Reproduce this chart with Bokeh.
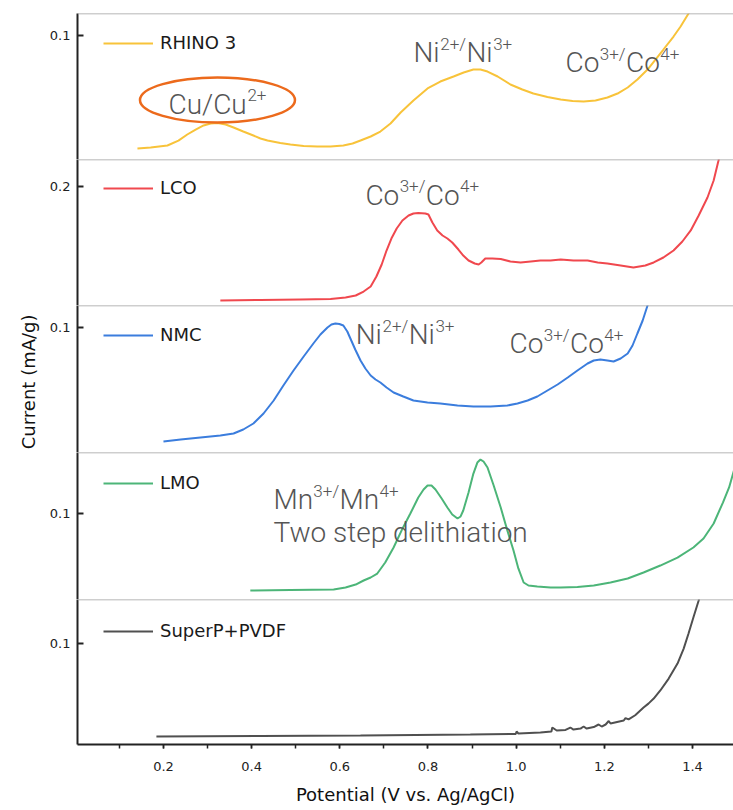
from bokeh.plotting import figure
from bokeh.models import (Range1d, FixedTicker, SingleIntervalTicker, Legend,
                          LegendItem, Label, Span, PrintfTickFormatter)
from bokeh.layouts import column
from bokeh.embed import file_html
from bokeh.resources import INLINE

# ---------------- data (potential V vs. Ag/AgCl, current mA/g) ----------------
rhino_v = [0.141, 0.171, 0.209, 0.234, 0.254, 0.273, 0.291, 0.307, 0.323, 0.341, 0.359, 0.381,
           0.404, 0.420, 0.436, 0.465, 0.488, 0.518, 0.549, 0.579, 0.608, 0.629, 0.647, 0.670,
           0.692, 0.715, 0.738, 0.767, 0.799, 0.828, 0.858, 0.881, 0.903, 0.919, 0.935, 0.958,
           0.987, 1.014, 1.039, 1.071, 1.101, 1.128, 1.153, 1.180, 1.207, 1.230, 1.253, 1.275,
           1.298, 1.316, 1.334, 1.357, 1.373, 1.391, 1.400]
rhino_i = [0.0089, 0.0097, 0.0113, 0.0153, 0.0202, 0.0242, 0.0275, 0.0291, 0.0295, 0.0283, 0.0259, 0.0226,
           0.0194, 0.0170, 0.0154, 0.0133, 0.0121, 0.0109, 0.0105, 0.0105, 0.0113, 0.0129, 0.0154, 0.0186,
           0.0226, 0.0291, 0.0380, 0.0477, 0.0574, 0.0630, 0.0671, 0.0703, 0.0727, 0.0727, 0.0711, 0.0671,
           0.0606, 0.0566, 0.0533, 0.0505, 0.0485, 0.0473, 0.0469, 0.0477, 0.0501, 0.0533, 0.0582, 0.0646,
           0.0727, 0.0808, 0.0889, 0.0994, 0.1075, 0.1180, 0.1245]

lco_v = [0.329, 0.420, 0.511, 0.579, 0.613, 0.636, 0.654, 0.670, 0.683, 0.695, 0.706, 0.717, 0.729,
         0.742, 0.756, 0.767, 0.778, 0.794, 0.801, 0.810, 0.821, 0.833, 0.844, 0.855, 0.869, 0.880,
         0.892, 0.906, 0.915, 0.921, 0.930, 0.946, 0.965, 0.987, 1.010, 1.033, 1.055, 1.078, 1.101,
         1.130, 1.162, 1.185, 1.207, 1.237, 1.266, 1.293, 1.312, 1.334, 1.357, 1.377, 1.396, 1.414,
         1.434, 1.448, 1.459, 1.464]
lco_i = [0.0084, 0.0092, 0.0101, 0.0109, 0.0134, 0.0168, 0.0235, 0.0319, 0.0487, 0.0689, 0.0924, 0.1126, 0.1294,
         0.1429, 0.1513, 0.1547, 0.1555, 0.1547, 0.1530, 0.1395, 0.1261, 0.1177, 0.1126, 0.1059, 0.0941, 0.0840,
         0.0756, 0.0706, 0.0689, 0.0723, 0.0790, 0.0790, 0.0782, 0.0740, 0.0723, 0.0740, 0.0756, 0.0756, 0.0773,
         0.0756, 0.0756, 0.0723, 0.0706, 0.0673, 0.0639, 0.0673, 0.0723, 0.0807, 0.0925, 0.1076, 0.1261, 0.1513,
         0.1815, 0.2101, 0.2437, 0.2605]

nmc_v = [0.200, 0.239, 0.284, 0.329, 0.359, 0.381, 0.404, 0.427, 0.450, 0.472, 0.495, 0.518, 0.540,
         0.556, 0.572, 0.581, 0.590, 0.599, 0.608, 0.617, 0.624, 0.635, 0.647, 0.658, 0.670, 0.681,
         0.692, 0.706, 0.722, 0.744, 0.767, 0.799, 0.828, 0.867, 0.903, 0.942, 0.980, 1.003, 1.026,
         1.048, 1.071, 1.094, 1.117, 1.139, 1.162, 1.176, 1.191, 1.207, 1.221, 1.237, 1.253, 1.264,
         1.275, 1.287, 1.298, 1.303]
nmc_i = [0.0088, 0.0104, 0.0120, 0.0136, 0.0152, 0.0184, 0.0232, 0.0312, 0.0416, 0.0536, 0.0656, 0.0768, 0.0872,
         0.0944, 0.1000, 0.1024, 0.1032, 0.1028, 0.1016, 0.0968, 0.0912, 0.0824, 0.0736, 0.0672, 0.0616, 0.0584,
         0.0560, 0.0520, 0.0480, 0.0448, 0.0416, 0.0400, 0.0392, 0.0376, 0.0368, 0.0368, 0.0376, 0.0392, 0.0416,
         0.0448, 0.0496, 0.0544, 0.0600, 0.0656, 0.0712, 0.0736, 0.0744, 0.0736, 0.0728, 0.0752, 0.0792, 0.0856,
         0.0952, 0.1056, 0.1176, 0.1232]

lmo_v = [0.397, 0.488, 0.586, 0.613, 0.636, 0.654, 0.670, 0.685, 0.703, 0.722, 0.740, 0.760, 0.778,
         0.790, 0.799, 0.808, 0.817, 0.831, 0.844, 0.855, 0.867, 0.874, 0.880, 0.892, 0.903, 0.912,
         0.919, 0.926, 0.935, 0.949, 0.965, 0.980, 0.994, 1.005, 1.017, 1.028, 1.048, 1.078, 1.101,
         1.139, 1.176, 1.214, 1.253, 1.289, 1.327, 1.366, 1.402, 1.425, 1.448, 1.469, 1.483, 1.494]
lmo_i = [0.0105, 0.0110, 0.0116, 0.0140, 0.0174, 0.0221, 0.0256, 0.0302, 0.0430, 0.0605, 0.0802, 0.1000, 0.1186,
         0.1279, 0.1326, 0.1326, 0.1279, 0.1175, 0.1070, 0.0989, 0.0942, 0.0966, 0.1035, 0.1244, 0.1465, 0.1593,
         0.1628, 0.1605, 0.1535, 0.1326, 0.1070, 0.0802, 0.0570, 0.0361, 0.0198, 0.0163, 0.0151, 0.0140, 0.0140,
         0.0145, 0.0163, 0.0198, 0.0244, 0.0314, 0.0395, 0.0488, 0.0605, 0.0709, 0.0884, 0.1128, 0.1303, 0.1500]

superp_v = [0.184, 0.420, 0.647, 0.896, 0.999, 1.001, 1.005, 1.055, 1.080, 1.082, 1.092, 1.112, 1.123,
            1.130, 1.146, 1.153, 1.160, 1.176, 1.187, 1.194, 1.203, 1.210, 1.214, 1.244, 1.248, 1.255,
            1.270, 1.289, 1.300, 1.312, 1.327, 1.346, 1.366, 1.380, 1.391, 1.402, 1.414, 1.418]
superp_i = [0.0079, 0.0084, 0.0089, 0.0099, 0.0104, 0.0129, 0.0109, 0.0119, 0.0129, 0.0168, 0.0139, 0.0144, 0.0168,
            0.0148, 0.0158, 0.0178, 0.0158, 0.0173, 0.0198, 0.0178, 0.0198, 0.0233, 0.0208, 0.0238, 0.0262, 0.0248,
            0.0290, 0.0366, 0.0405, 0.0455, 0.0535, 0.0653, 0.0802, 0.0950, 0.1099, 0.1257, 0.1426, 0.1505]

names = ["RHINO 3", "LCO", "NMC", "LMO", "SuperP+PVDF"]
colors = ["#F8C33A", "#F0484E", "#3B7DDD", "#4CB578", "#505050"]
y_max = [0.118, 0.2454, 0.1176, 0.171, 0.1436]
y_ticks = [[0.1], [0.2], [0.1], [0.1], [0.1]]
x_ticks_interval = 0.2

series = [(rhino_v, rhino_i), (lco_v, lco_i), (nmc_v, nmc_i), (lmo_v, lmo_i), (superp_v, superp_i)]

# annotation texts: (x, y, [(text, superscript?)])
annotations = [
    [(0.2113, 0.0380, [("Cu/Cu", 0), ("2+", 1)]),
     (0.767, 0.0800, [("Ni", 0), ("2+/", 1), ("Ni", 0), ("3+", 1)]),
     (1.112, 0.0719, [("Co", 0), ("3+/", 1), ("Co", 0), ("4+", 1)])],
    [(0.658, 0.1715, [("Co", 0), ("3+/", 1), ("Co", 0), ("4+", 1)])],
    [(0.636, 0.0880, [("Ni", 0), ("2+/", 1), ("Ni", 0), ("3+", 1)]),
     (0.985, 0.0808, [("Co", 0), ("3+/", 1), ("Co", 0), ("4+", 1)])],
    [(0.4495, 0.1070, [("Mn", 0), ("3+/", 1), ("Mn", 0), ("4+", 1)]),
     (0.4495, 0.0686, [("Two step delithiation", 0)])],
    [],
]

# ---------------- styling ----------------
FRAME_LEFT = 77
WIDTH = 733
frame_h = [146, 146, 147, 147, 145]
legend_top = [20, 19, 20, 21, 22]
ANN_FONT = "'Roboto Light', Roboto"
MAIN_PX, SUP_PX = 28, 17
BASE_SHIFT = 8     # px: alphabetic baseline correction
SUP_RAISE = 9      # px
ROBOTO_W = {'C': 0.653, 'u': 0.551, '/': 0.412, 'N': 0.713, 'i': 0.243, 'o': 0.570,
            'M': 0.873, 'n': 0.552, '2': 0.5615, '3': 0.5615, '4': 0.5615, '+': 0.567}


def text_w(s, px):
    return sum(ROBOTO_W.get(c, 0.55) for c in s) * px


figs = []
for k in range(5):
    last = (k == 4)
    top_b = 13 if k == 0 else 0
    bot_b = 64 if last else 0
    p = figure(width=WIDTH, height=frame_h[k] + top_b + bot_b,
               x_range=Range1d(0.005, 1.493), y_range=Range1d(0, y_max[k]),
               output_backend="svg", toolbar_location=None,
               x_axis_location="below" if last else None,
               min_border_left=FRAME_LEFT, min_border_right=0,
               min_border_top=top_b, min_border_bottom=bot_b)
    p.grid.visible = False
    p.outline_line_color = None
    p.background_fill_color = "white"
    p.border_fill_color = "white"

    v, i = series[k]
    r = p.line(v, i, line_color=colors[k], line_width=2)

    # y axis
    ya = p.yaxis[0]
    ya.ticker = FixedTicker(ticks=y_ticks[k], minor_ticks=[])
    ya.axis_line_color = "#222222"
    ya.axis_line_width = 2
    ya.major_tick_in = 6
    ya.major_tick_out = 0
    ya.major_tick_line_width = 2
    ya.major_tick_line_color = "#222222"
    ya.minor_tick_line_color = None
    ya.major_label_text_font = "DejaVu Sans"
    ya.major_label_text_font_size = "13px"
    ya.major_label_text_color = "#222222"
    ya.major_label_standoff = 7
    if k == 2:
        ya.axis_label = "Current  (mA/g)"
        ya.axis_label_text_font = "DejaVu Sans"
        ya.axis_label_text_font_size = "18px"
        ya.axis_label_text_font_style = "normal"
        ya.axis_label_text_color = "#111111"
        ya.axis_label_standoff = 8

    if last:
        xa = p.xaxis[0]
        xa.ticker = SingleIntervalTicker(interval=x_ticks_interval, num_minor_ticks=2)
        xa.formatter = PrintfTickFormatter(format="%.1f")
        xa.axis_line_color = "#222222"
        xa.axis_line_width = 2
        xa.major_tick_in = 0
        xa.major_tick_out = 4
        xa.minor_tick_in = 0
        xa.minor_tick_out = 4
        xa.major_tick_line_width = 1.5
        xa.minor_tick_line_width = 1.5
        xa.major_tick_line_color = "#222222"
        xa.minor_tick_line_color = "#222222"
        xa.major_label_text_font = "DejaVu Sans"
        xa.major_label_text_font_size = "13px"
        xa.major_label_text_color = "#222222"
        xa.major_label_standoff = 13
        xa.axis_label = "Potential (V vs. Ag/AgCl)"
        xa.axis_label_text_font = "DejaVu Sans"
        xa.axis_label_text_font_size = "18px"
        xa.axis_label_text_font_style = "normal"
        xa.axis_label_text_color = "#111111"
        xa.axis_label_standoff = 10

    # panel separator at top
    p.add_layout(Span(location=y_max[k], dimension="width",
                      line_color="#9E9E9E", line_width=1.5))

    # legend
    leg = Legend(items=[LegendItem(label=names[k], renderers=[r])],
                 location=(26, frame_h[k] - legend_top[k] - 20),
                 border_line_color=None, background_fill_alpha=0,
                 label_text_font="DejaVu Sans", label_text_font_size="18px",
                 label_text_color="#1a1a1a", glyph_width=50, glyph_height=20,
                 label_height=20, label_standoff=7, padding=0, margin=0, spacing=0)
    p.add_layout(leg)

    # annotations
    for (ax, ay, parts) in annotations[k]:
        dx = 0.0
        for txt, sup in parts:
            px = SUP_PX if sup else MAIN_PX
            p.add_layout(Label(x=ax, y=ay, x_offset=dx,
                               y_offset=BASE_SHIFT + (SUP_RAISE if sup else 0),
                               text=txt, text_font=ANN_FONT,
                               text_font_size=f"{px}px", text_color="#555555",
                               text_baseline="alphabetic", text_align="left"))
            dx += text_w(txt, px)

    if k == 0:
        p.ellipse(x=[0.3225], y=[0.0481], width=155, height=45,
                  width_units="screen", height_units="screen",
                  fill_color=None, line_color="#EC6A1C", line_width=2.5)

    figs.append(p)

layout = column(*figs, spacing=0)
open("out.html", "w").write(file_html(layout, INLINE))
